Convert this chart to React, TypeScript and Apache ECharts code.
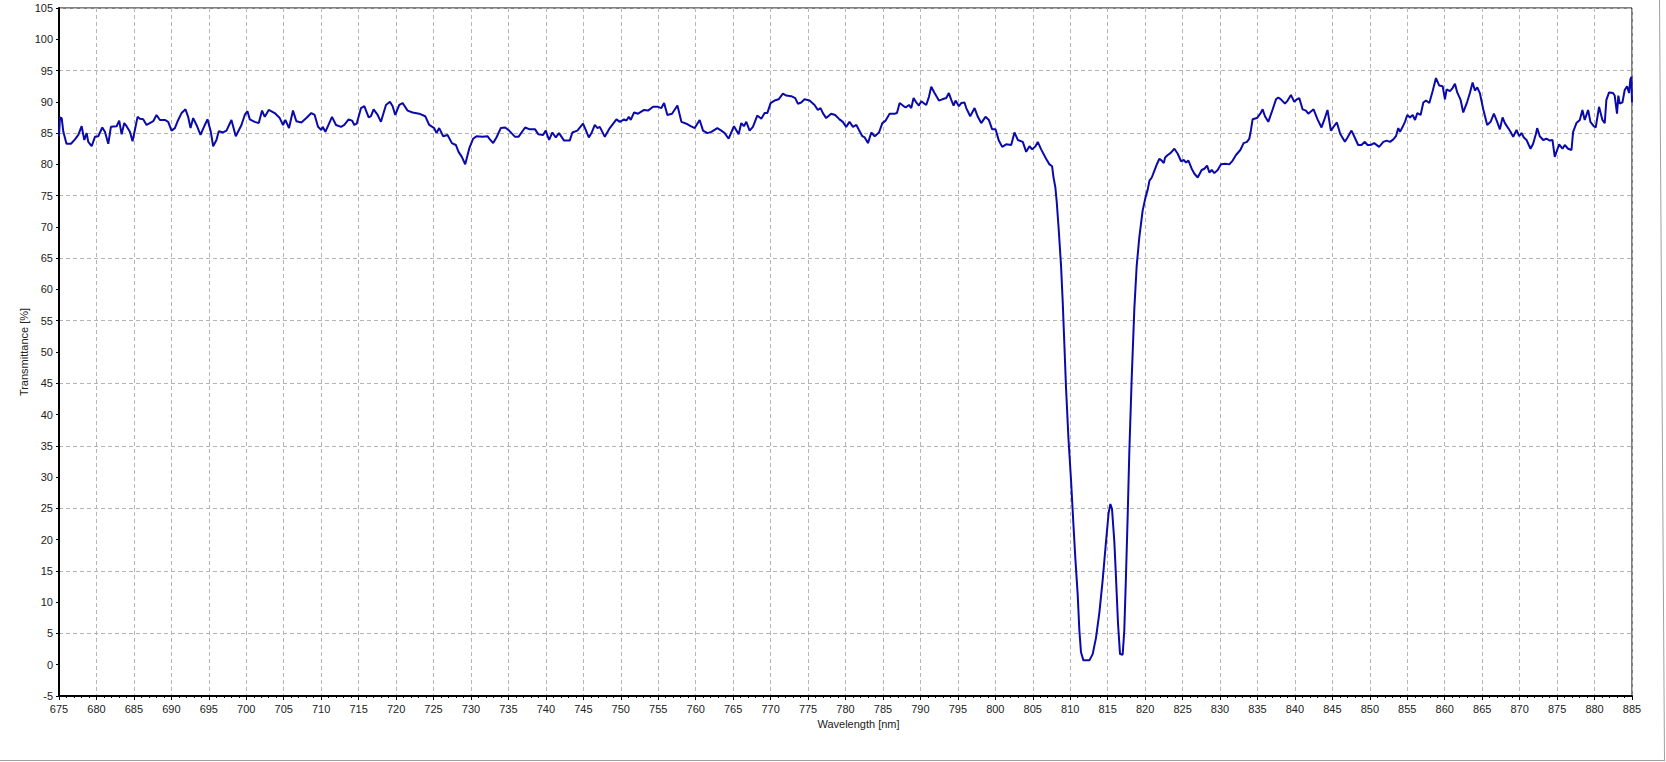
import React, { useEffect, useRef } from "react";
import * as echarts from "echarts";

// Wavelength [nm] sample positions
const wavelength: number[] = [
  675.0, 675.13, 675.36, 675.58, 676.0, 676.6, 677.13, 677.58, 678.02, 678.38, 678.69, 678.91, 679.36, 679.8,
  680.24, 680.78, 681.13, 681.58, 681.93, 682.69, 683.04, 683.36, 683.71, 684.02, 684.47, 684.82, 685.49, 685.8,
  686.24, 686.69, 687.13, 687.58, 688.02, 688.47, 689.13, 689.58, 690.02, 690.47, 690.91, 691.36, 691.89, 692.24,
  692.56, 692.91, 693.36, 693.89, 694.47, 694.82, 695.27, 695.58, 696.02, 696.33, 696.91, 697.36, 698.02, 698.6,
  699.36, 699.8, 700.16, 700.47, 701.13, 701.67, 702.11, 702.47, 703.0, 703.8, 704.47, 704.91, 705.22, 705.71,
  706.24, 706.69, 707.36, 708.02, 708.69, 709.13, 709.58, 710.02, 710.2, 710.56, 711.45, 711.98, 712.65, 713.09,
  713.67, 714.12, 714.43, 714.74, 715.32, 715.76, 716.34, 716.65, 717.0, 717.54, 717.98, 718.65, 719.18, 719.54,
  719.89, 720.43, 720.87, 721.54, 722.2, 723.09, 723.89, 724.43, 725.09, 725.4, 725.76, 726.29, 726.87, 727.45,
  727.98, 728.34, 728.78, 729.23, 729.76, 730.29, 730.74, 731.54, 732.2, 732.52, 732.96, 733.4, 733.98, 734.56,
  735.09, 735.89, 736.34, 737.23, 737.85, 738.56, 739.0, 739.63, 739.98, 740.43, 740.87, 741.32, 741.76, 742.43,
  743.18, 743.54, 744.2, 744.96, 745.32, 745.73, 746.09, 746.53, 746.89, 747.2, 747.87, 748.53, 749.42, 749.87,
  750.44, 750.76, 751.07, 751.33, 751.78, 752.31, 753.11, 753.64, 754.31, 754.98, 755.42, 755.78, 756.22, 756.84,
  757.56, 758.09, 758.76, 759.33, 759.87, 760.53, 760.98, 761.56, 762.09, 762.89, 763.42, 763.87, 764.4, 765.11,
  765.73, 766.09, 766.44, 766.76, 767.2, 767.64, 768.22, 768.76, 769.2, 769.56, 770.0, 770.53, 771.07, 771.64,
  772.09, 772.76, 773.29, 773.64, 774.09, 774.53, 775.2, 775.87, 776.31, 776.67, 776.98, 777.42, 778.09, 778.62,
  779.2, 779.64, 780.09, 780.53, 781.0, 781.45, 781.8, 782.25, 782.56, 783.0, 783.45, 783.9, 784.47, 784.92,
  785.36, 785.89, 786.56, 786.87, 787.23, 787.67, 788.03, 788.47, 788.78, 789.09, 789.45, 789.8, 790.12, 790.43,
  790.78, 791.14, 791.45, 791.89, 792.47, 792.92, 793.45, 793.8, 794.12, 794.43, 794.69, 795.14, 795.45, 795.89,
  796.12, 796.65, 797.23, 797.67, 798.12, 798.69, 799.14, 799.58, 800.03, 800.47, 800.92, 801.45, 802.12, 802.56,
  803.0, 803.67, 804.12, 804.56, 804.92, 805.36, 805.67, 806.12, 806.78, 807.23, 807.58, 807.76, 808.02, 808.2,
  808.47, 808.78, 809.0, 809.22, 809.44, 809.76, 810.11, 810.42, 810.69, 811.0, 811.22, 811.44, 811.76, 812.56,
  813.0, 813.44, 813.89, 814.33, 814.78, 815.13, 815.36, 815.58, 815.89, 816.11, 816.38, 816.65, 817.0, 817.22,
  817.44, 817.67, 817.89, 818.2, 818.56, 818.87, 819.22, 819.67, 820.03, 820.35, 820.58, 820.89, 821.24, 821.6,
  821.91, 822.22, 822.49, 822.67, 823.02, 823.38, 823.91, 824.35, 824.8, 825.15, 825.47, 825.78, 826.22, 826.58,
  827.02, 827.55, 827.91, 828.27, 828.58, 828.89, 829.24, 829.69, 830.13, 830.71, 831.24, 831.69, 832.13, 832.71,
  833.15, 833.6, 833.91, 834.13, 834.35, 834.93, 835.38, 835.69, 836.0, 836.44, 836.89, 837.47, 837.78, 838.13,
  838.67, 839.02, 839.47, 839.91, 840.27, 840.58, 841.02, 841.47, 841.78, 842.49, 843.02, 843.55, 843.91, 844.35,
  844.8, 845.15, 845.6, 846.04, 846.67, 847.02, 847.55, 847.91, 848.44, 848.89, 849.33, 849.69, 850.13, 850.58,
  851.24, 851.8, 852.25, 852.69, 853.14, 853.49, 853.8, 854.03, 854.38, 854.69, 855.0, 855.36, 855.72, 856.03,
  856.34, 856.78, 857.14, 857.49, 857.94, 858.38, 858.83, 859.27, 859.72, 860.03, 860.25, 860.69, 861.05, 861.36,
  861.67, 862.12, 862.47, 863.0, 863.36, 863.72, 864.03, 864.34, 864.69, 865.14, 865.67, 866.12, 866.56, 867.0,
  867.36, 867.72, 868.03, 868.47, 868.78, 869.14, 869.58, 869.94, 870.25, 870.56, 870.92, 871.45, 871.8, 872.16,
  872.34, 872.69, 873.14, 873.58, 874.03, 874.38, 874.69, 874.92, 875.27, 875.72, 876.03, 876.47, 876.92, 877.14,
  877.58, 878.03, 878.38, 878.69, 879.14, 879.45, 879.89, 880.16, 880.6, 881.05, 881.36, 881.58, 881.94, 882.47,
  882.69, 883.0, 883.18, 883.36, 883.72, 884.03, 884.34, 884.61, 884.78, 884.92, 885.0,
];

// Transmittance [%] at each wavelength above
const transmittance: number[] = [
  84.5, 87.5, 87.4, 85.2, 83.3, 83.3, 84.0, 84.7, 86.1, 83.9, 85.0, 83.6, 82.9, 84.4,
  84.5, 85.9, 85.2, 83.3, 86.0, 86.1, 87.0, 84.8, 86.6, 86.1, 85.2, 83.7, 87.6, 87.3,
  87.2, 86.3, 86.6, 86.9, 87.9, 87.1, 87.1, 86.8, 85.4, 85.8, 87.1, 88.2, 88.8, 87.6,
  85.8, 87.4, 86.3, 84.7, 86.3, 87.2, 85.2, 82.9, 83.9, 85.3, 85.1, 85.4, 87.1, 84.5,
  86.3, 87.9, 88.5, 87.2, 86.8, 86.6, 88.6, 87.6, 88.7, 88.2, 87.4, 86.3, 87.1, 85.8,
  88.6, 86.9, 86.7, 87.4, 88.2, 87.9, 86.0, 85.5, 86.0, 85.2, 87.6, 86.3, 86.0, 86.3,
  87.2, 87.0, 86.3, 86.5, 89.0, 89.3, 87.5, 87.7, 88.8, 87.9, 86.8, 89.5, 90.0, 89.3,
  87.9, 89.5, 89.8, 88.6, 88.3, 88.1, 87.7, 86.3, 85.8, 85.0, 85.8, 84.5, 84.7, 83.4,
  83.1, 82.0, 81.2, 80.0, 82.5, 84.1, 84.5, 84.4, 84.5, 84.0, 83.4, 84.3, 85.8, 85.9,
  85.4, 84.4, 84.4, 85.9, 85.6, 85.6, 84.8, 84.7, 85.4, 83.9, 85.1, 84.3, 85.0, 83.8,
  83.8, 85.1, 85.4, 86.5, 85.5, 84.3, 85.0, 86.3, 85.8, 86.0, 84.4, 85.8, 87.2, 86.8,
  87.2, 87.0, 87.6, 87.1, 88.3, 88.1, 88.7, 88.6, 89.2, 89.2, 89.0, 89.8, 87.9, 88.1,
  89.4, 86.8, 86.5, 86.1, 85.8, 87.1, 85.4, 85.0, 85.2, 85.8, 85.4, 85.0, 84.1, 86.1,
  84.8, 86.6, 86.1, 86.8, 85.4, 86.0, 87.8, 87.3, 88.2, 88.2, 89.8, 90.2, 90.4, 91.3,
  91.0, 90.9, 90.6, 89.7, 89.9, 90.4, 90.2, 89.5, 88.7, 89.0, 88.2, 87.4, 88.1, 87.9,
  87.2, 86.8, 86.0, 86.8, 86.0, 86.3, 85.5, 84.5, 84.3, 83.4, 85.1, 84.5, 85.1, 86.6,
  87.0, 88.1, 88.1, 88.2, 89.8, 89.4, 89.1, 89.5, 89.0, 90.6, 89.9, 89.4, 90.1, 89.8,
  89.5, 90.8, 92.4, 91.4, 90.2, 90.4, 90.6, 91.4, 90.3, 89.4, 90.2, 89.3, 89.8, 89.9,
  89.0, 87.7, 89.0, 87.6, 86.6, 87.6, 87.1, 85.6, 85.6, 83.8, 82.8, 83.2, 83.1, 85.1,
  83.9, 83.6, 82.0, 82.9, 82.4, 82.9, 83.6, 82.4, 80.9, 80.0, 79.7, 78.0, 76.3, 74.0,
  69.5, 63.7, 58.0, 51.2, 44.3, 36.3, 29.5, 22.6, 16.9, 11.2, 5.5, 2.0, 0.7, 0.7,
  1.7, 4.3, 8.3, 13.5, 19.7, 24.3, 25.7, 24.9, 19.7, 14.0, 6.6, 1.7, 1.6, 5.5,
  14.0, 23.7, 34.0, 45.5, 56.9, 63.7, 68.3, 72.6, 74.6, 76.0, 77.4, 77.9, 79.0, 80.1,
  80.9, 80.6, 80.2, 81.1, 81.5, 81.8, 82.5, 81.7, 80.5, 80.7, 80.3, 80.6, 79.3, 78.5,
  77.9, 79.1, 79.3, 79.8, 78.7, 79.1, 78.6, 79.1, 80.0, 80.1, 80.0, 80.6, 81.5, 82.3,
  83.4, 83.6, 84.1, 85.5, 87.2, 87.4, 88.1, 88.8, 87.7, 86.8, 88.3, 90.4, 90.7, 90.4,
  89.7, 90.2, 91.1, 90.0, 90.4, 90.6, 88.8, 88.6, 88.1, 88.8, 87.2, 85.9, 87.1, 88.7,
  85.4, 86.0, 86.7, 84.9, 83.6, 84.3, 85.4, 84.5, 83.1, 83.1, 83.6, 83.1, 83.1, 83.4,
  82.8, 83.6, 83.8, 83.6, 84.0, 84.5, 85.8, 85.2, 86.0, 86.8, 87.9, 87.5, 87.9, 87.1,
  88.2, 87.9, 89.9, 90.2, 89.8, 91.7, 93.8, 92.6, 92.5, 90.4, 92.0, 91.7, 92.2, 92.9,
  91.5, 90.3, 88.3, 90.0, 91.4, 93.1, 91.8, 92.3, 91.4, 88.8, 86.3, 86.8, 88.1, 86.8,
  85.6, 87.5, 86.6, 85.8, 85.2, 84.4, 85.5, 84.5, 85.0, 84.3, 83.9, 82.5, 83.3, 84.8,
  85.8, 84.5, 83.9, 84.1, 83.8, 83.9, 81.2, 82.0, 83.2, 82.5, 83.1, 82.5, 82.3, 85.2,
  86.6, 87.1, 88.7, 87.1, 88.7, 86.8, 86.1, 85.9, 89.2, 87.1, 86.6, 90.3, 91.5, 91.4,
  91.0, 88.1, 91.0, 89.7, 89.9, 91.9, 92.5, 91.4, 93.6, 94.0, 89.9,
];

const xTitle = "Wavelength [nm]";
const yTitle = "Transmittance [%]";

export default function App() {
  const ref = useRef<HTMLDivElement>(null);

  useEffect(() => {
    if (!ref.current) return;
    const chart = echarts.init(ref.current, undefined, { renderer: "svg" });
    const points = wavelength.map((w, i) => [w, transmittance[i]]);
    const labelFont = {
      fontFamily: "Liberation Sans, Arial, sans-serif",
      fontSize: 11,
      color: "#222",
    };
    const gridDash = { color: "#b4b4b4", type: [4, 3], width: 1 };
    chart.setOption({
      animation: false,
      backgroundColor: "#ffffff",
      grid: {
        left: 59,
        top: 8,
        right: 34,
        bottom: 66,
        show: true,
        borderColor: "#000",
        borderWidth: 1,
        backgroundColor: "#ffffff",
      },
      xAxis: {
        type: "value",
        min: 675,
        max: 885,
        interval: 5,
        name: xTitle,
        nameLocation: "middle",
        nameGap: 22,
        nameMoveOverlap: false,
        nameTextStyle: { ...labelFont, padding: [0, 0, 0, 26] },
        axisLine: { show: true, onZero: false, lineStyle: { color: "#000", width: 2 } },
        axisTick: { show: true, length: 4, lineStyle: { color: "#000" } },
        minorTick: { show: true, splitNumber: 5, length: 2, lineStyle: { color: "#000" } },
        axisLabel: { ...labelFont, margin: 7 },
        splitLine: { show: true, lineStyle: gridDash },
      },
      yAxis: [
        {
          type: "value",
          min: -5,
          max: 105,
          interval: 5,
          name: yTitle,
          nameLocation: "middle",
          nameGap: 30,
          nameMoveOverlap: false,
          nameTextStyle: { ...labelFont },
          axisLine: { show: true, onZero: false, lineStyle: { color: "#000", width: 2 } },
          axisTick: { show: true, length: 3, lineStyle: { color: "#000" } },
          axisLabel: { ...labelFont, margin: 6 },
          splitLine: { show: false },
        },
        {
          // helper axis: same span (110 units) shifted by 5, so its lines fall on 5, 15, ... 95
          type: "value",
          min: 0,
          max: 110,
          interval: 10,
          position: "left",
          axisLine: { show: false },
          axisTick: { show: false },
          axisLabel: { show: false },
          splitLine: { show: true, lineStyle: gridDash },
        },
      ],
      graphic: [
        {
          type: "line",
          shape: { x1: 1659.5, y1: 0, x2: 1664.5, y2: 761 },
          style: { stroke: "#a0a0a0", lineWidth: 1 },
        },
        {
          type: "line",
          shape: { x1: 0, y1: 760.5, x2: 1664, y2: 760.5 },
          style: { stroke: "#a0a0a0", lineWidth: 1 },
        },
      ],
      series: [
        {
          type: "line",
          yAxisIndex: 0,
          data: points,
          showSymbol: false,
          symbol: "none",
          lineStyle: { color: "#0a0aaa", width: 2 },
          z: 5,
        },
      ],
    });
    return () => chart.dispose();
  }, []);

  return (
    <div
      ref={ref}
      style={{ position: "fixed", left: 0, top: 0, width: 1666, height: 762, background: "#fff" }}
    />
  );
}
